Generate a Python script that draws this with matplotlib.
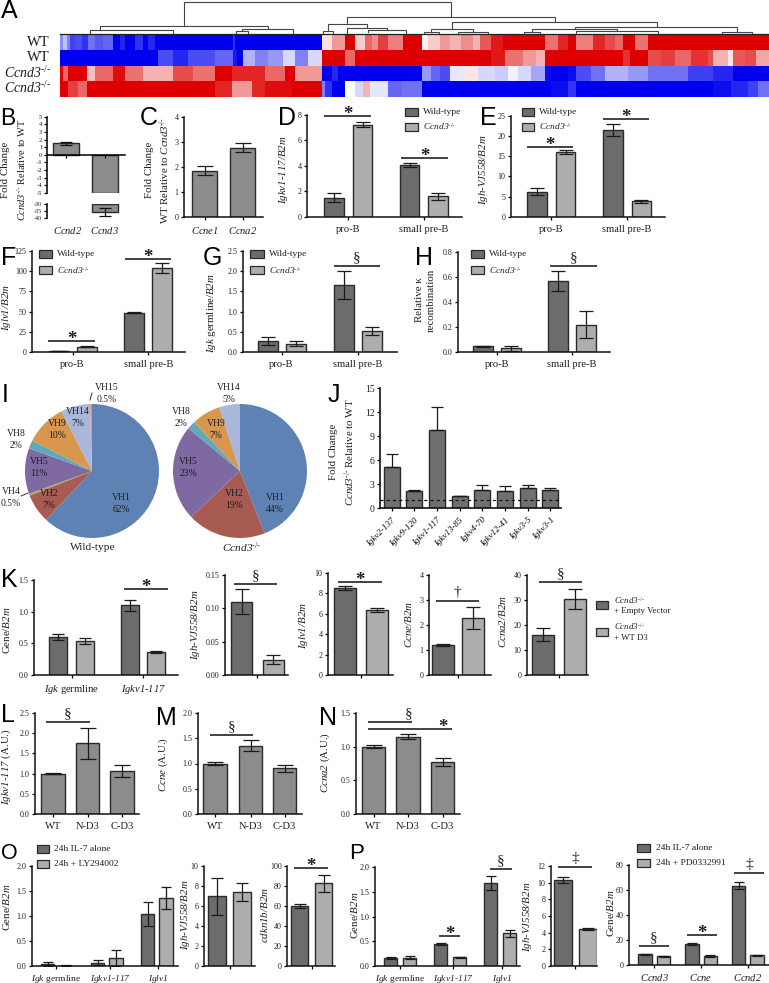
import numpy as np
import matplotlib
matplotlib.use("Agg")
import matplotlib.pyplot as plt
from matplotlib.colors import LinearSegmentedColormap
from matplotlib.patches import Rectangle

plt.rcParams['font.family'] = ['Liberation Serif', 'DejaVu Serif']
plt.rcParams['mathtext.fontset'] = 'custom'
plt.rcParams['mathtext.rm'] = 'Liberation Serif'
plt.rcParams['mathtext.it'] = 'Liberation Serif:italic'
plt.rcParams['mathtext.cal'] = 'Liberation Serif:italic'
plt.rcParams['mathtext.bf'] = 'Liberation Serif:bold'
plt.rcParams['axes.unicode_minus'] = False

W, H = 769, 983
KO = r'$\mathcal{Ccnd3}^{\text{-/-}}$'

# ---------- Panel A: heatmap, run lengths as (end column, level) ----------
heat_wt1 = [(3,-.45),(7,-.25),(10,-.5),(15,-.75),(22,-.7),(28,-.8),(35,-.55),(43,-.65),(53,-.6),(60,-1),(65,-.85),(75,-1),(83,-.8),(88,-1),(95,-.85),(173,-1),(175,-.8),(262,-1),
            (272,.12),(285,.4),(295,1),(305,.2),(312,.6),(318,.45),(328,.75),(343,.5),(363,1),(369,.05),(381,.2),(391,.4),(402,.3),(414,.45),(421,.3),(432,.65),(444,.9),(486,1),(499,.55),(509,.85),(517,1),(534,.5),(546,.85),(556,.7),(564,.6),(576,1),(589,.55),(710,1)]
heat_wt2 = [(98,-1),(113,-.7),(128,-.85),(155,-.7),(173,-.6),(177,-.9),(183,-1),(195,-.3),(208,-.5),(223,-.4),(235,-.15),(248,-.5),(262,-.15),
            (285,1),(295,.6),(432,1),(446,.9),(464,.55),(477,.4),(486,.3),(564,1),(571,.8),(589,1),(602,.7),(616,.75),(632,.6),(649,.8),(654,.7),(669,.3),(674,.1),(686,.65),(697,.7),(710,.35)]
heat_ko1 = [(3,1),(8,.6),(27,1),(35,.25),(53,.6),(65,.95),(83,.55),(113,.3),(133,.7),(155,.55),(172,1),(205,.85),(225,.6),(235,1),(262,.4),
            (272,-1),(278,-.85),(363,-1),(372,-.4),(381,-.6),(391,-.7),(404,-.1),(419,.1),(436,-.15),(449,-.2),(459,-.05),(472,-.15),(486,-.35),(492,-.95),(509,-1),(517,-.95),(532,-.7),(546,-.55),(569,-.3),(589,-.4),(629,-.55),(654,-.75),(674,-.85),(710,-1)]
heat_ko2 = [(8,1),(18,.75),(27,.6),(155,1),(172,.85),(192,.4),(205,.85),(232,.95),(262,1),
            (265,-.5),(272,-.8),(285,-1),(295,0),(303,-.15),(310,.3),(328,-.1),(342,-.6),(363,-.55),(492,-1),(509,-.95),(517,-.8),(654,-1),(672,-.95),(689,-.85),(699,-.75),(710,-.55)]
heat_rows = ['WT', 'WT', KO, KO]

# dendrogram merges: (left leaf column, right leaf column, height, left child height, right child height)
dendro = [(184,451,1.5,25,16.5),(100,268,25.5,30,28.5),(90,173,30,33.5,33.5),(242,293,28.5,31,33.5),(236,248,31,33.5,33.5),
          (347,555,16.5,24,22),(328,367,24,30.5,28),(323,333,30.5,33.5,33.5),(347,387,28,33.5,30),(368,406,30,31.5,33.5),
          (452,657,22,29,26.5),(431,473,29,32,32),(424,439,32,33.5,33.5),(458,488,32,33.5,33.5),
          (575,737,26.5,28.5,32),(532,617,28.5,32,31),(524,540,32,33.5,33.5),(576,658,31,33.5,33.5),(722,752,32,33.5,33.5)]

# ---------- Bars ----------
b_genes = ['Ccnd2', 'Ccnd3']; b_values = [1.5, -35.5]; b_errors = [0.2, 3.0]
c_genes = ['Ccne1', 'Ccna2']; c_values = [1.83, 2.75]; c_errors = [0.18, 0.18]
cells = ['pro-B', 'small pre-B']
d_values = [1.5, 7.25, 4.05, 1.6]; d_errors = [.37, .2, .15, .3]
e_values = [6.2, 15.9, 21.5, 3.8]; e_errors = [.8, .5, 1.5, .4]
f_values = [1, 6.8, 48.5, 104]; f_errors = [.3, .5, .5, 6]
g_values = [.27, .21, 1.65, .52]; g_errors = [.09, .05, .35, .09]
h_values = [.045, .03, .57, .22]; h_errors = [.005, .02, .08, .105]

pie_wt_names = ['VH1','VH2','VH4','VH5','VH8','VH9','VH14','VH15']
pie_wt = [62, 7, .5, 11, 2, 10, 7, .5]
pie_ko_names = ['VH1','VH2','VH5','VH8','VH9','VH14']
pie_ko = [44, 19, 23, 2, 7, 5]
pie_colors = {'VH1':'#5F82B5','VH2':'#A85B52','VH4':'#9BAE5C','VH5':'#7F69A2','VH8':'#5FA9BB','VH9':'#D9964F','VH14':'#A8B7DA','VH15':'#D99A94'}

j_genes = ['Igkv2-137','Igkv9-120','Igkv1-117','Igkv13-85','Igkv4-70','Igkv12-41','Igkv3-5','Igkv3-1']
j_values = [5.1, 2.1, 9.8, 1.45, 2.2, 2.1, 2.45, 2.3]
j_errors = [1.7, .2, 2.8, .05, .7, .65, .4, .15]

k1_groups = [r'$\mathcal{Igk}$ germline', r'$\mathcal{Igkv1}$-$\mathcal{117}$']
k1_values = [.6, .54, 1.1, .36]; k1_errors = [.05, .05, .09, .02]
k2_values = [.11, .023]; k2_errors = [.019, .007]
k3_values = [8.5, 6.35]; k3_errors = [.2, .2]
k4_values = [1.2, 2.28]; k4_errors = [.03, .43]
k5_values = [16.2, 30.5]; k5_errors = [2.5, 4]

constructs = ['WT', 'N-D3', 'C-D3']
l_values = [1, 1.75, 1.06]; l_errors = [.01, .38, .15]
m_values = [1, 1.35, .91]; m_errors = [.03, .11, .07]
n_values = [1, 1.15, .775]; n_errors = [.02, .04, .06]

o1_groups = [r'$\mathcal{Igk}$ germline', r'$\mathcal{Igkv1}$-$\mathcal{117}$', r'$\mathcal{Iglv1}$']
o1_values = [.04, .01, .07, .17, 1.04, 1.36]; o1_errors = [.04, .01, .05, .16, .24, .22]
o2_values = [7, 7.4]; o2_errors = [1.85, .9]
o3_values = [60, 83]; o3_errors = [2, 8.5]
p1_values = [.16, .17, .45, .18, 1.68, .66]; p1_errors = [.02, .03, .02, .01, .14, .07]
p2_values = [10.3, 4.45]; p2_errors = [.35, .15]
p3_groups = [r'$\mathcal{Ccnd3}$', r'$\mathcal{Ccne}$', r'$\mathcal{Ccnd2}$']
p3_values = [8.5, 7, 17, 7.5, 63.5, 8]; p3_errors = [.2, .2, .9, .7, 3, .4]

DARK, LIGHT, MID, EDGE, INK = '#6C6C6C', '#ADADAD', '#8C8C8C', '#2A2A2A', '#1E1E1E'
TICK_FS, CAT_FS, YL_FS, LEG_FS = 5.8, 7.6, 7.8, 6.8

fig = plt.figure(figsize=(W/100, H/100), dpi=100, facecolor='white')

def px_axes(x0, x1, ytop, ybot):
    return fig.add_axes([x0/W, 1-ybot/H, (x1-x0)/W, (ybot-ytop)/H])

ov = fig.add_axes([0, 0, 1, 1], zorder=20)
ov.set_xlim(0, W); ov.set_ylim(H, 0); ov.axis('off'); ov.patch.set_alpha(0)

def txt(x, y, s, fs=CAT_FS, ha='center', va='center', **kw):
    kw.setdefault('color', INK)
    return ov.text(x, y, s, fontsize=fs, ha=ha, va=va, **kw)

def ylab(x, y, s, fs=YL_FS):
    txt(x, y, s, fs=fs, rotation=90)

def sig(x0, x1, y, sym, xs=None, lw=1.2):
    ov.plot([x0, x1], [y, y], color='#222222', lw=lw, solid_capstyle='butt')
    xs = (x0+x1)/2 if xs is None else xs
    if sym == '*':
        ov.text(xs, y-1.5, '*', fontsize=13.5, fontweight='bold', ha='center', va='center', color=INK)
    else:
        ov.text(xs, y-8.5, sym, fontsize=11, ha='center', va='center', color=INK)

def legend(rx0, rx1, ys, labels, tx, rh=8):
    for y, lab, col in zip(ys, labels, [DARK, LIGHT]):
        ov.add_patch(Rectangle((rx0, y), rx1-rx0, rh, fc=col, ec=EDGE, lw=0.9))
        txt(tx, y+rh/2, lab, fs=LEG_FS, ha='left')

def bars(box, ymax, yticks, values, errors, centers, width, colors, xticks=None, labels=None,
         ticklabels=None, upper=False, cat_fs=CAT_FS, cat_pad=3.5):
    x0, x1, yt, yb = box
    ax = px_axes(x0, x1, yt, yb)
    ax.patch.set_alpha(0)
    ax.set_xlim(x0, x1); ax.set_ylim(0, ymax)
    yerr = [np.zeros(len(errors)), errors] if upper else errors
    ax.bar(centers, values, width=width, color=colors, edgecolor=EDGE, linewidth=1.0)
    ax.errorbar(centers, values, yerr=yerr, fmt='none', ecolor='#1a1a1a', elinewidth=0.9, capsize=width*0.2+0.8, capthick=0.9)
    for s in ('top', 'right'):
        ax.spines[s].set_visible(False)
    for s in ('left', 'bottom'):
        ax.spines[s].set_linewidth(1.1); ax.spines[s].set_color('#111111')
    ax.set_yticks(yticks)
    ax.set_yticklabels(ticklabels if ticklabels else [str(t) for t in yticks], fontsize=TICK_FS, color=INK)
    ax.set_xticks(xticks if xticks is not None else [])
    if labels is not None:
        ax.set_xticklabels(labels, fontsize=cat_fs, color=INK)
    ax.tick_params(axis='y', length=2.4, width=0.9, pad=1.5)
    ax.tick_params(axis='x', length=2.4, width=0.9, pad=cat_pad)
    return ax

def pair_pos(first, pitch, step, ngroups):
    return [first + step*g + pitch*i for g in range(ngroups) for i in range(2)]

def group_centers(first, pitch, step, ngroups):
    return [first + step*g + pitch/2 for g in range(ngroups)]

PAIR2 = [DARK, LIGHT]*2
PAIR3 = [DARK, LIGHT]*3

# ---------- A ----------
cmap = LinearSegmentedColormap.from_list('bwr2', ['#0000F0', '#FFFFFF', '#DE0000'])
def expand(rle):
    out, start = [], 0
    for end, v in rle:
        out += [v]*(end-start); start = end
    return out
heat = np.array([expand(r) for r in (heat_wt1, heat_wt2, heat_ko1, heat_ko2)])
ax = px_axes(60, 769, 35, 96.7)
ax.imshow(heat, aspect='auto', cmap=cmap, vmin=-1, vmax=1, interpolation='nearest')
ax.axis('off')
for y, lab in zip([43, 57.5], heat_rows[:2]):
    txt(50, y, lab, fs=10.5, ha='right')
for y, lab in zip([73, 88], heat_rows[2:]):
    txt(51, y, lab, fs=10, ha='right')
for xa, xb, h, ha_, hb_ in dendro:
    ov.plot([xa, xa, xb, xb], [ha_, h, h, hb_], color='#444444', lw=0.8, solid_joinstyle='miter')
ov.plot([60, 769], [34, 34], color='#222222', lw=0.9)

# ---------- B (broken axis) ----------
ax = px_axes(47, 125, 116.7, 193)
ax.set_xlim(47, 125); ax.set_ylim(-5, 5); ax.patch.set_alpha(0)
ax.bar([66, 105], [b_values[0], -5], width=26, color=MID, edgecolor=EDGE, linewidth=1.0, clip_on=True)
ax.errorbar([66], [b_values[0]], yerr=[b_errors[0]], fmt='none', ecolor='#111111', elinewidth=.9, capsize=4, capthick=.9)
ax.spines['top'].set_visible(False); ax.spines['right'].set_visible(False)
ax.spines['bottom'].set_position(('data', 0)); ax.spines['bottom'].set_linewidth(1.1); ax.spines['left'].set_linewidth(1.1)
ax.set_yticks(range(-5, 6)); ax.set_yticklabels(['-5','-4','-3','-2','-1','0','1','2','3','4','5'], fontsize=4.8, color=INK)
ax.set_xticks([66, 105]); ax.set_xticklabels([])
ax.tick_params(axis='y', length=2.2, width=.9, pad=1.2); ax.tick_params(axis='x', length=2.4, width=.9, direction='out')
ax2 = px_axes(47, 125, 204.3, 218)
ax2.patch.set_alpha(0)
ax2.set_xlim(47, 125); ax2.set_ylim(-40, -30)
ax2.bar([105], [b_values[1]+30], bottom=-30, width=26, color=MID, edgecolor=EDGE, linewidth=1.0)
ax2.errorbar([105], [b_values[1]], yerr=[b_errors[1]], fmt='none', ecolor='#111111', elinewidth=.9, capsize=4.5, capthick=.9)
for s in ('top', 'right', 'bottom'):
    ax2.spines[s].set_visible(False)
ax2.spines['left'].set_linewidth(1.1)
ax2.set_xticks([]); ax2.set_yticks([-30, -35, -40]); ax2.set_yticklabels(['-30','-35','-40'], fontsize=4.4, color=INK)
ax2.tick_params(axis='y', length=2.2, width=.9, pad=1.2)
txt(68, 230, r'$\mathcal{%s}$' % b_genes[0]); txt(105, 230, r'$\mathcal{%s}$' % b_genes[1])
ylab(6, 170, 'Fold Change'); ylab(22, 170, KO + ' Relative to WT', fs=7.5)

# ---------- C ----------
bars((184, 263, 116.7, 216.7), 4, [0,1,2,3,4], c_values, c_errors, [204.5, 242.5], 25, MID,
     xticks=[204.5, 242.5], labels=[r'$\mathcal{%s}$' % g for g in c_genes])
ylab(149, 170, 'Fold Change'); ylab(165, 170, 'WT Relative to ' + KO)

# ---------- D ----------
BLEG = ['Wild-type', KO]
bars((307, 462, 115, 216.7), 8, [0,2,4,6,8], d_values, d_errors, pair_pos(334, 28.7, 75.5, 2), 19.5, PAIR2,
     xticks=group_centers(334, 28.7, 75.5, 2), labels=cells)
ylab(284, 170, r'$\mathcal{Igkv1}$-$\mathcal{117/B2m}$')
sig(324, 371, 116, '*'); sig(401, 448, 158, '*')
legend(405, 418, [108, 123], BLEG, 423)

# ---------- E ----------
bars((511, 665, 115.7, 216.7), 25, [0,5,10,15,20,25], e_values, e_errors, pair_pos(537, 28.5, 75.8, 2), 19.5, PAIR2,
     xticks=group_centers(537, 28.5, 75.8, 2), labels=cells)
ylab(483, 170, r'$\mathcal{Igh}$-$\mathcal{VJ558/B2m}$')
sig(527, 573, 147, '*'); sig(603, 649, 119, '*')
legend(522, 534, [108, 123], BLEG, 539)

# ---------- F ----------
bars((32, 185, 251, 352), 125, [0,25,50,75,100,125], f_values, f_errors, pair_pos(58.5, 28, 75.8, 2), 20, PAIR2,
     xticks=group_centers(58.5, 28, 75.8, 2), labels=cells)
ylab(7, 308, r'$\mathcal{Iglv1/B2m}$')
sig(48, 95, 341, '*'); sig(124.5, 171, 259, '*')
legend(39, 52, [250, 266], BLEG, 57)

# ---------- G ----------
bars((243, 397, 251, 352), 2.5, [0,.5,1,1.5,2,2.5], g_values, g_errors, pair_pos(267.5, 28, 76.5, 2), 20, PAIR2,
     xticks=group_centers(267.5, 28, 76.5, 2), labels=cells,
     ticklabels=['0.0','0.5','1.0','1.5','2.0','2.5'])
ylab(212, 313, r'$\mathcal{Igk}$ germline/$\mathcal{B2m}$')
sig(334, 380, 266, '§')
legend(250, 264, [250, 266], BLEG, 269)

# ---------- H ----------
bars((458, 610, 252, 352), .8, [0,.2,.4,.6,.8], h_values, h_errors, pair_pos(482.5, 28.3, 75.5, 2), 20, PAIR2,
     xticks=group_centers(482.5, 28.3, 75.5, 2), labels=cells,
     ticklabels=['0.0','0.2','0.4','0.6','0.8'])
ylab(419, 300, 'Relative κ'); ylab(431, 300, 'recombination')
sig(550, 597, 266, '§')
legend(471, 484, [250, 266], BLEG, 489)

# ---------- I ----------
def pie(cx, names, vals):
    r = 67
    ax = px_axes(cx-r, cx+r, 471-r, 471+r)
    ax.pie(vals, colors=[pie_colors[n] for n in names], startangle=90, counterclock=False, radius=1)
    ax.set_xlim(-1, 1); ax.set_ylim(-1, 1)
pie(92, pie_wt_names, pie_wt)
pie(240, pie_ko_names, pie_ko)
PFS = 6.9
for x, y1, y2, a, b in [(121,498,510,'VH1','62%'),(49,493,505,'VH2','7%'),(39,462,474,'VH5','11%'),(16,434,446,'VH8','2%'),
                        (57,424,436,'VH9','10%'),(78,412,423,'VH14','7%'),(107,387,399,'VH15','0.5%'),(11,491,503,'VH4','0.5%'),
                        (275,498,510,'VH1','44%'),(234,493,505,'VH2','19%'),(188,462,474,'VH5','23%'),(181,411,423,'VH8','2%'),
                        (216,424,436,'VH9','7%'),(229,387,399,'VH14','5%')]:
    txt(x, y1, a, fs=PFS); txt(x, y2, b, fs=PFS)
ov.plot([21, 28], [496, 493], color='#333333', lw=.7)
ov.plot([90, 92], [400, 393], color='#333333', lw=.7)
txt(93, 548, 'Wild-type', fs=8.2); txt(242, 548, KO, fs=8.2)

# ---------- J ----------
jx = [391.5 + 22.7*i for i in range(len(j_genes))]
ax = bars((380, 561, 388, 508), 15, [0,3,6,9,12,15], j_values, j_errors, jx, 16, '#707070', xticks=jx, upper=True)
for s in ('left', 'bottom'):
    ax.spines[s].set_linewidth(1.2)
ax.set_xticklabels(j_genes, rotation=45, ha='right', rotation_mode='anchor', fontsize=6.4, style='italic')
ax.tick_params(axis='y', labelsize=7)
ax.axhline(1, color='#111111', lw=.9, ls=(0, (2.5, 2.5)), zorder=5)
ylab(334, 452, 'Fold Change'); ylab(350, 452, KO + ' Relative to WT')

# ---------- K ----------
bars((34, 178, 580, 675), 1.5, [0,.5,1,1.5], k1_values, k1_errors, pair_pos(58, 26.5, 71.5, 2), 18, PAIR2,
     xticks=[72, 143], labels=k1_groups, ticklabels=['0.0','0.5','1.0','1.5'])
ylab(7, 630, r'Gene/$\mathcal{B2m}$'); sig(124, 168, 589, '*')
bars((225, 288, 575, 675), .15, [0,.05,.1,.15], k2_values, k2_errors, [241.5, 273], 21, [DARK, LIGHT], xticks=[257],
     labels=[''], ticklabels=['0.00','0.05','0.10','0.15'])
ylab(195, 625, r'$\mathcal{Igh}$-$\mathcal{VJ558/B2m}$'); sig(234, 277, 584, '§')
bars((328, 393, 573, 675), 10, [0,2,4,6,8,10], k3_values, k3_errors, [345, 377], 22, [DARK, LIGHT], xticks=[361], labels=[''])
ylab(304, 626, r'$\mathcal{Iglv1/B2m}$'); sig(338, 382, 582, '*')
bars((429, 491, 575, 675), 4, [0,1,2,3,4], k4_values, k4_errors, [443, 473], 22, [DARK, LIGHT], xticks=[458], labels=[''])
ylab(409, 625, r'$\mathcal{Ccne/B2m}$'); sig(436, 479, 601, '†')
bars((527, 588, 575, 675), 40, [0,10,20,30,40], k5_values, k5_errors, [543, 575], 22, [DARK, LIGHT], xticks=[559], labels=[''])
ylab(503, 622, r'$\mathcal{Ccna2/B2m}$'); sig(539, 582, 582, '§')
ov.add_patch(Rectangle((596, 601), 12, 8, fc=DARK, ec=EDGE, lw=.9))
ov.add_patch(Rectangle((596, 628), 12, 8, fc=LIGHT, ec=EDGE, lw=.9))
txt(614, 600, KO, fs=LEG_FS-.4, ha='left'); txt(614, 611, '+ Empty Vector', fs=LEG_FS-.4, ha='left')
txt(614, 627, KO, fs=LEG_FS-.4, ha='left'); txt(614, 638, '+ WT D3', fs=LEG_FS-.4, ha='left')

# ---------- L M N ----------
TL = ['0.0','0.5','1.0','1.5','2.0','2.5']
bars((35, 139, 713, 814), 2.5, [0,.5,1,1.5,2,2.5], l_values, l_errors, [53, 87.5, 122], 23.5, MID, xticks=[53, 87.5, 122], labels=constructs, ticklabels=TL)
ylab(6, 767, r'$\mathcal{Igkv1}$-$\mathcal{117}$ (A.U.)'); sig(46, 90, 722, '§')
bars((198, 302, 713, 814), 2, [0,.5,1,1.5,2], m_values, m_errors, [215, 250.5, 284.5], 23.5, MID, xticks=[215, 250.5, 284.5], labels=constructs, ticklabels=TL[:5])
ylab(163, 765, r'$\mathcal{Ccne}$ (A.U.)'); sig(210, 253, 735, '§')
bars((356, 460, 713, 814), 1.5, [0,.5,1,1.5], n_values, n_errors, [373.5, 408, 442.5], 23.5, MID, xticks=[373.5, 408, 442.5], labels=constructs, ticklabels=TL[:4])
ylab(325, 763, r'$\mathcal{Ccna2}$ (A.U.)'); sig(368, 412, 722, '§', xs=409); sig(368, 452, 729, '*', xs=443)

# ---------- O ----------
bars((32, 178, 866, 966), 2, [0,.5,1,1.5,2], o1_values, o1_errors, pair_pos(47.5, 18.5, 50, 3), 13.5, PAIR3,
     xticks=[56, 110, 158], labels=o1_groups, ticklabels=TL[:5], cat_fs=6.8, cat_pad=2.5)
ylab(7, 907, r'Gene/$\mathcal{B2m}$')
legend(37, 49, [845, 860], ['24h IL-7 alone', '24h + LY294002'], 54)
bars((204, 255, 866, 966), 10, [0,2,4,6,8,10], o2_values, o2_errors, [217, 242], 18, [DARK, LIGHT], xticks=[229.5], labels=[''])
ylab(186, 915, r'$\mathcal{Igh}$-$\mathcal{VJ558/B2m}$')
bars((287, 335, 866, 966), 100, [0,20,40,60,80,100], o3_values, o3_errors, [299.5, 323.5], 17.5, [DARK, LIGHT], xticks=[311.5], labels=[''])
ylab(264, 915, r'$\mathcal{cdkn1b/B2m}$'); sig(294, 328, 868, '*')

# ---------- P ----------
bars((375, 520, 867, 966), 2, [0,.5,1,1.5,2], p1_values, p1_errors, pair_pos(390.5, 19, 50, 3), 13, PAIR3,
     xticks=[400, 453, 502], labels=o1_groups, ticklabels=TL[:5], cat_fs=6.8, cat_pad=2.5)
ylab(355, 915, r'Gene/$\mathcal{B2m}$')
sig(439, 460, 936, '*'); sig(490, 512, 869, '§')
bars((551, 597, 866, 966), 12, [0,2,4,6,8,10,12], p2_values, p2_errors, [563, 588], 18, [DARK, LIGHT], xticks=[575], labels=[''])
ylab(528, 917, r'$\mathcal{Igh}$-$\mathcal{VJ558/B2m}$'); sig(558, 592, 867, '‡')
bars((629, 769, 865, 965), 80, [0,20,40,60,80], p3_values, p3_errors, pair_pos(645, 18.6, 46.8, 3), 13.5, PAIR3,
     xticks=group_centers(645, 18.6, 46.8, 3), labels=p3_groups, cat_pad=2.5)
ylab(610, 913, r'Gene/$\mathcal{B2m}$')
sig(639, 669, 946, '§'); sig(687, 717, 935, '*'); sig(734, 764, 873, '‡')
legend(637, 650, [844, 859], ['24h IL-7 alone', '24h + PD0332991'], 656)

# ---------- letters ----------
for x, y, s, fs in [(1,18,'A',18),(0,125,'B',16.5),(140,125,'C',18),(278,125,'D',18),(480,125,'E',18),(1,265,'F',18),(203,265,'G',18),(415,265,'H',18),
                    (2,402,'I',18),(328,402,'J',18),(1,587,'K',18),(1,722,'L',18),(156,725,'M',18),(319,725,'N',18),(1,859,'O',15.5),(349,859,'P',16)]:
    ov.text(x, y, s, fontsize=fs, family='Liberation Sans', ha='left', va='baseline', color='black')

fig.savefig('out.png', dpi=100)
